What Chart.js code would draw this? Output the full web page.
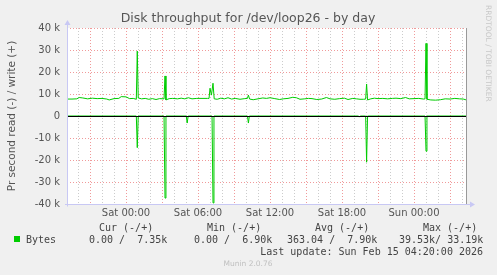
<!DOCTYPE html>
<html>
<head>
<meta charset="utf-8">
<script src="https://cdn.jsdelivr.net/npm/chart.js@4/dist/chart.umd.min.js"></script>
<style>
  html, body { margin: 0; padding: 0; background: #f0f0f0; }
  #wrap { width: 497px; height: 275px; position: relative; }
</style>
</head>
<body>
<div id="wrap"><canvas id="chart" width="497" height="275"></canvas></div>
<script>
// hours relative to Sat 00:00, values in k (bytes/s)
const writeHours = [-4.92, -4.5, -4.1, -3.9, -3.6, -3.2, -2.8, -2.4, -2.0, -1.6, -1.4, -1.0, -0.6, -0.4, 0.0, 0.3, 0.6, 0.86, 0.94, 1.02,
    1.3, 1.6, 1.9, 2.2, 2.5, 2.8, 3.17, 3.25, 3.33, 3.6, 3.9, 4.3, 4.6, 4.9, 5.2, 5.5, 5.9, 6.8, 6.92, 7.0,
    7.12, 7.25, 7.35, 7.6, 7.9, 8.2, 8.5, 8.8, 9.1, 9.5, 9.9, 10.12, 10.2, 10.3, 10.6, 11.0, 11.4, 11.7, 12.0, 12.4,
    12.8, 13.1, 13.5, 13.9, 14.2, 14.5, 14.9, 15.2, 15.5, 15.9, 16.3, 16.7, 17.0, 17.4, 17.8, 18.2, 18.5, 18.9, 19.2, 19.5,
    19.8, 19.97, 20.05, 20.13, 20.4, 20.7, 21.0, 21.4, 21.8, 22.2, 22.5, 22.9, 23.3, 23.6, 24.0, 24.4, 24.8, 24.92, 25.0, 25.08,
    25.4, 25.8, 26.2, 26.6, 27.0, 27.4, 27.8, 28.1, 28.33];
const writeKB = [7.7, 7.7, 7.8, 8.4, 8.2, 7.8, 8.1, 7.9, 8.0, 7.7, 7.3, 7.9, 8.0, 8.8, 8.7, 7.9, 8.0, 7.6, 29.5, 8.2,
    7.8, 8.0, 7.6, 7.9, 7.5, 7.9, 7.8, 18.2, 7.3, 7.9, 8.0, 7.8, 8.1, 7.8, 8.3, 7.8, 8.0, 8.0, 8.0, 12.6,
    9.5, 14.9, 7.8, 7.6, 8.1, 7.8, 8.3, 7.7, 8.0, 7.6, 7.9, 8.0, 9.5, 7.7, 7.4, 7.8, 8.2, 8.0, 8.3, 7.9,
    7.5, 7.8, 8.0, 8.5, 8.3, 7.6, 7.8, 8.0, 7.9, 7.5, 7.7, 8.4, 7.8, 7.6, 7.9, 8.1, 7.5, 8.0, 7.8, 7.6,
    7.6, 7.7, 14.5, 7.3, 7.8, 8.1, 7.9, 8.0, 7.8, 8.0, 8.1, 7.9, 8.4, 7.8, 7.9, 8.0, 7.7, 7.8, 33.0, 7.6,
    7.3, 7.2, 7.4, 7.8, 7.7, 8.0, 7.8, 7.7, 7.35];
const readHours = [-4.92, 0.86, 0.94, 1.02, 3.17, 3.25, 3.33, 5.02, 5.1, 5.18, 7.17, 7.25, 7.33, 10.12, 10.2, 10.28,
    19.38, 19.45, 19.52, 19.97, 20.05, 20.13, 24.92, 25.0, 25.08, 28.33];
const readKB = [0, 0, -14.4, 0, 0, -37.3, 0, 0, -3.2, 0, 0, -39.5, 0, 0, -3.2, 0,
    0, -0.5, 0, 0, -21, 0, 0, -16, 0, 0];

const xLabels = { 0: 'Sat 00:00', 6: 'Sat 06:00', 12: 'Sat 12:00', 18: 'Sat 18:00', 24: 'Sun 00:00' };
const xMin = -4.9167, xMax = 28.333;
const titleText = 'Disk throughput for /dev/loop26 - by day';

const GREEN = '#00cc00';
const MAJOR = 'rgba(235,120,120,0.75)';
const MINOR = 'rgba(170,170,170,0.6)';
const AXIS = '#c8c8f4';

function toPoints(hs, vs) {
    return hs.map((h, i) => ({ x: h, y: vs[i] }));
}

const munin = {
    id: 'munin',
    beforeDraw(chart) {
        const { ctx, chartArea: a } = chart;
        ctx.save();
        ctx.fillStyle = '#ffffff';
        ctx.fillRect(a.left, a.top, a.right - a.left, a.bottom - a.top);
        ctx.restore();
    },
    afterDatasetsDraw(chart) {
        const { ctx, chartArea: a, scales } = chart;
        ctx.save();
        // zero rule
        const y0 = Math.round(scales.y.getPixelForValue(0)) + 0.5;
        ctx.strokeStyle = '#000';
        ctx.lineWidth = 1;
        ctx.beginPath(); ctx.moveTo(a.left, y0); ctx.lineTo(a.right, y0); ctx.stroke();
        // right edge rule
        ctx.strokeStyle = '#999';
        ctx.beginPath(); ctx.moveTo(a.right + 0.5, a.top); ctx.lineTo(a.right + 0.5, a.bottom); ctx.stroke();
        // axes
        ctx.strokeStyle = AXIS;
        ctx.fillStyle = AXIS;
        const xl = Math.round(a.left) + 0.5, yb = Math.round(a.bottom) + 0.5;
        ctx.beginPath(); ctx.moveTo(xl, yb + 2); ctx.lineTo(xl, a.top - 4); ctx.stroke();
        ctx.beginPath(); ctx.moveTo(xl - 3, a.top - 3); ctx.lineTo(xl + 3, a.top - 3); ctx.lineTo(xl, a.top - 8); ctx.closePath(); ctx.fill();
        ctx.beginPath(); ctx.moveTo(a.left - 2, yb); ctx.lineTo(a.right + 5, yb); ctx.stroke();
        ctx.beginPath(); ctx.moveTo(a.right + 4, yb - 3); ctx.lineTo(a.right + 4, yb + 3); ctx.lineTo(a.right + 9, yb); ctx.closePath(); ctx.fill();
        ctx.restore();
    },
    afterDraw(chart) {
        const ctx = chart.ctx;
        ctx.save();
        // title
        ctx.fillStyle = '#555';
        ctx.font = '12.5px "DejaVu Sans"';
        ctx.textAlign = 'center';
        ctx.textBaseline = 'middle';
        ctx.fillText(titleText, 248, 19);
        // legend
        ctx.fillStyle = GREEN;
        ctx.fillRect(14, 236, 6, 6);
        ctx.fillStyle = '#444';
        ctx.font = '10px "DejaVu Sans Mono"';
        ctx.textAlign = 'left';
        ctx.fillText('Cur (-/+)', 99, 228);
        ctx.fillText('Min (-/+)', 207, 228);
        ctx.fillText('Avg (-/+)', 315, 228);
        ctx.fillText('Max (-/+)', 423, 228);
        ctx.fillText('Bytes', 26, 240);
        ctx.fillText('0.00 /  7.35k', 89, 240);
        ctx.fillText('0.00 /  6.90k', 194, 240);
        ctx.fillText('363.04 /  7.90k', 287, 240);
        ctx.fillText('39.53k/ 33.19k', 399, 240);
        ctx.textAlign = 'right';
        ctx.fillText('Last update: Sun Feb 15 04:20:00 2026', 483, 252);
        ctx.textAlign = 'center';
        ctx.fillStyle = '#c0c0c0';
        ctx.font = '7.5px "DejaVu Sans"';
        ctx.fillText('Munin 2.0.76', 248, 264);
        // vertical rrdtool tag
        ctx.translate(488, 5);
        ctx.rotate(Math.PI / 2);
        ctx.textAlign = 'left';
        ctx.fillStyle = '#c8c8c8';
        ctx.font = '7.5px "DejaVu Sans"';
        ctx.fillText('RRDTOOL / TOBI OETIKER', 0, 0);
        ctx.restore();
    }
};

new Chart(document.getElementById('chart'), {
    type: 'line',
    data: {
        datasets: [{
            label: 'write',
            data: toPoints(writeHours, writeKB),
            borderColor: GREEN,
            borderWidth: 1,
            pointRadius: 0,
            tension: 0,
            fill: false
        }, {
            label: 'read',
            data: toPoints(readHours, readKB),
            borderColor: GREEN,
            borderWidth: 1,
            pointRadius: 0,
            tension: 0,
            fill: false
        }]
    },
    options: {
        responsive: false,
        animation: false,
        events: [],
        layout: { padding: { left: 0, right: 31, top: 28, bottom: 0 } },
        scales: {
            x: {
                type: 'linear',
                min: xMin,
                max: xMax,
                afterBuildTicks: scale => {
                    const t = [];
                    for (let h = -4; h <= 28; h++) t.push({ value: h });
                    scale.ticks = t;
                },
                afterFit: scale => { scale.height = 71; },
                ticks: {
                    autoSkip: false,
                    maxRotation: 0,
                    padding: 3,
                    color: '#555',
                    font: { family: 'DejaVu Sans', size: 10 },
                    callback: v => xLabels[v] || ''
                },
                grid: {
                    color: c => (c.tick && c.tick.value % 3 === 0) ? MAJOR : MINOR,
                    lineWidth: 1,
                    drawTicks: false
                },
                border: { display: false, dash: [1, 2] }
            },
            y: {
                min: -40,
                max: 40,
                afterFit: scale => { scale.width = 67; },
                ticks: {
                    stepSize: 5,
                    padding: 7,
                    color: '#555',
                    font: { family: 'DejaVu Sans', size: 10 },
                    callback: v => v % 10 === 0 ? (v === 0 ? '0' : v + ' k') : ''
                },
                grid: {
                    color: c => (c.tick && c.tick.value % 10 === 0) ? MAJOR : MINOR,
                    lineWidth: 1,
                    drawTicks: false
                },
                border: { display: false, dash: [1, 2] },
                title: {
                    display: true,
                    text: 'Pr second read (-) / write (+)',
                    color: '#555',
                    font: { family: 'DejaVu Sans', size: 10.5 },
                    padding: { top: 6, bottom: 0 }
                }
            }
        },
        plugins: {
            legend: { display: false },
            tooltip: { enabled: false },
            title: { display: false }
        }
    },
    plugins: [munin]
});
</script>
</body>
</html>
